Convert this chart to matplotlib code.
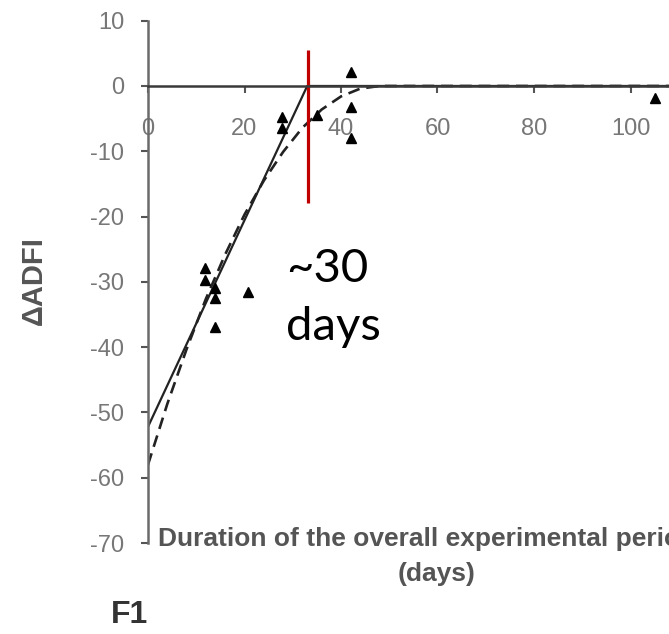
import matplotlib
matplotlib.use("Agg")
import matplotlib.pyplot as plt

plt.rcParams['axes.unicode_minus'] = False
plt.rcParams['font.family'] = ['Liberation Sans', 'DejaVu Sans']

# observed points (days, delta ADFI)
obs_days = [11.8, 11.8, 13.9, 13.9, 13.9, 20.7, 27.8, 27.8, 35.0, 42.1, 42.1, 42.1, 105.1]
obs_vals = [-27.9, -29.7, -31.0, -32.5, -36.9, -31.5, -4.7, -6.4, -4.5, 2.1, -3.2, -8.0, -1.8]

# linear-plateau fit (solid)
lin_days = [0, 33.0, 120]
lin_vals = [-52.2, 0, 0]

# quadratic-plateau fit (dashed)
quad_days = [0, 4, 8, 12, 16, 20, 24, 28, 32, 36, 40, 44, 48, 120]
quad_vals = [-58.0, -48.7, -40.3, -32.6, -25.8, -19.7, -14.5, -10.1, -6.4, -3.6, -1.6, -0.4, 0, 0]

# red marker line
red_days = [33.1, 33.1]
red_vals = [5.5, -17.9]

x_ticks = [0, 20, 40, 60, 80, 100]
y_ticks = [10, 0, -10, -20, -30, -40, -50, -60, -70]

W, H = 669, 634
fig = plt.figure(figsize=(W / 100, H / 100), dpi=100)
ax = fig.add_axes([148 / W, 1 - 543 / H, 579 / W, (543 - 20.7) / H])
ax.set_xlim(0, 120)
ax.set_ylim(-70, 10)

ax.plot(lin_days, lin_vals, color='#222222', lw=1.6, solid_capstyle='butt')
ax.plot(quad_days, quad_vals, color='#222222', lw=1.9, dashes=(4.5, 2.6))
ax.plot(obs_days, obs_vals, linestyle='none', marker='^', color='black', ms=6.5)
ax.plot(red_days, red_vals, color='#c00000', lw=2.3, solid_capstyle='butt')

for s in ['top', 'right']:
    ax.spines[s].set_visible(False)
ax.spines['bottom'].set_position(('data', 0))
ax.spines['bottom'].set_color('#3a3a3a')
ax.spines['bottom'].set_linewidth(1.8)
ax.spines['left'].set_color('#6a6a6a')
ax.spines['left'].set_linewidth(1.8)

ax.set_xticks(x_ticks)
ax.set_yticks(y_ticks)
ax.set_xticklabels([str(v) for v in x_ticks])
ax.set_yticklabels([str(v) for v in y_ticks])
ax.tick_params(axis='x', direction='out', length=5, width=1.5, color='#555555',
               pad=18, labelsize=17, labelcolor='#777777')
ax.tick_params(axis='y', direction='out', length=5, width=1.5, color='#555555',
               pad=12, labelsize=17, labelcolor='#777777')

fig.text(158 / W, 1 - 539 / H, 'Duration of the overall experimental period',
         ha='left', va='center', weight='bold', color='#555555', size=19)
fig.text(437 / W, 1 - 574 / H, '(days)', ha='center', va='center',
         weight='bold', color='#555555', size=19)
fig.text(34 / W, 1 - 281 / H, '\u0394ADFI', ha='center', va='center', rotation=90,
         weight='bold', color='#555555', size=21)
fig.text(111 / W, 1 - 615 / H, 'F1', ha='left', va='center', weight='bold',
         color='#333333', size=23)

fig.text(286 / W, 1 - 282 / H, '~30', ha='left', va='baseline', color='black',
         size=34, family=['Lato', 'DejaVu Sans'])
fig.text(286 / W, 1 - 340 / H, 'days', ha='left', va='baseline', color='black',
         size=34, family=['Lato', 'DejaVu Sans'])

fig.savefig('out.png', dpi=100)
